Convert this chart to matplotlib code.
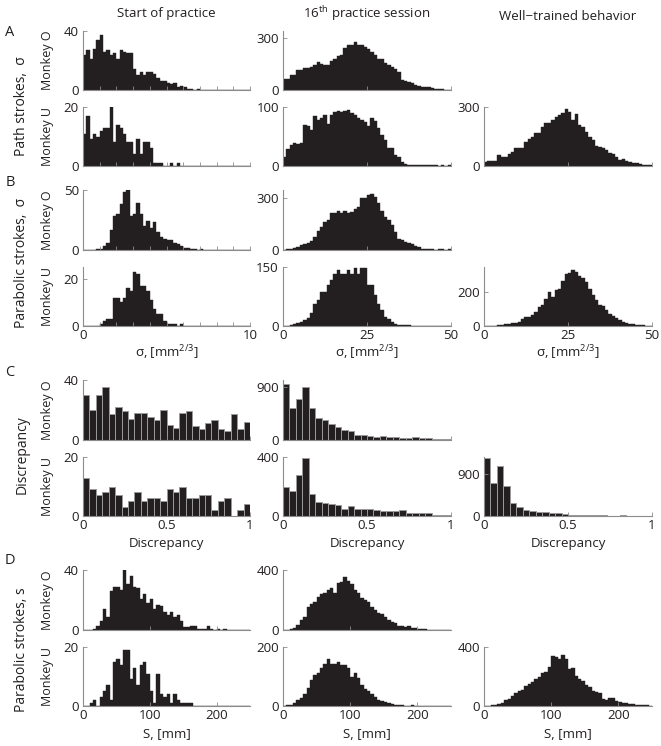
import numpy as np
import matplotlib
matplotlib.use("Agg")
import matplotlib.pyplot as plt

plt.rcParams['font.family'] = ['Open Sans', 'DejaVu Sans']
plt.rcParams['mathtext.fontset'] = 'custom'
plt.rcParams['mathtext.rm'] = 'Open Sans'
plt.rcParams['mathtext.it'] = 'Open Sans:italic'

# ---------------- data ----------------
# bin left edges
sigma_start_bins = np.arange(0, 10, 0.2)      # start of practice, sigma
sigma_bins = np.arange(0, 50, 1.0)            # 16th session / trained, sigma
disc_bins = np.linspace(0, 1, 27)[:-1]        # discrepancy
s_bins = np.arange(0, 250, 5.0)               # S, mm

def pad(v, n):
    v = list(v)
    return v + [0] * (n - len(v))

# A: path strokes sigma
pathO_start = pad([24, 27, 21, 28, 34, 37, 26, 27, 24, 25, 21, 27, 26, 25, 25, 14, 10, 12, 10, 12,
                   12, 11, 8, 6, 6, 5, 4, 5, 2, 3, 2, 1, 1, 0, 1], 50)
pathU_start = pad([11, 17, 9, 11, 10, 12, 13, 13, 20, 8, 14, 13, 11, 8, 8, 4, 9, 4, 8, 8,
                   6, 1, 1, 1, 0, 0, 1, 0, 1], 50)
pathO_16 = [63, 63, 86, 86, 118, 118, 124, 124, 130, 143, 160, 149, 143, 143, 166, 176, 195, 200, 243, 262,
            262, 279, 262, 262, 249, 239, 220, 200, 176, 176, 157, 143, 134, 120, 105, 57, 52, 48, 38, 31,
            23, 19, 15, 15, 11, 4, 4, 4, 2, 2]
pathU_16 = [16, 29, 36, 39, 37, 39, 70, 68, 61, 85, 78, 81, 86, 72, 86, 91, 93, 91, 93, 95,
            90, 86, 82, 78, 74, 67, 81, 76, 64, 53, 44, 30, 30, 19, 16, 7, 3, 2, 2, 2,
            1, 2, 1, 1, 2, 1, 0, 1, 0, 1]
pathU_trained = [22, 27, 27, 27, 56, 44, 48, 61, 70, 94, 90, 90, 124, 136, 150, 170, 167, 196, 221, 218,
                 235, 249, 261, 269, 291, 273, 235, 266, 210, 198, 175, 150, 133, 102, 99, 94, 82, 65, 60, 48,
                 31, 34, 26, 20, 14, 14, 9, 7, 5, 3]

# B: parabolic strokes sigma
parO_start = pad([0, 0, 0, 0, 1, 1, 3, 6, 17, 28, 30, 38, 48, 50, 28, 30, 39, 30, 20, 24,
                  18, 23, 15, 11, 9, 8, 8, 6, 5, 3, 2, 2, 1, 1, 0, 1], 50)
parU_start = pad([0, 0, 0, 0, 0, 1, 2, 3, 3, 12, 12, 10, 12, 16, 15, 23, 22, 17, 17, 15,
                  11, 7, 5, 5, 2, 1, 1, 1, 0, 1], 50)
parO_16 = [2, 5, 8, 12, 15, 27, 35, 40, 54, 77, 110, 135, 164, 174, 213, 217, 228, 217, 228, 217,
           222, 238, 251, 300, 300, 319, 325, 306, 271, 228, 193, 174, 145, 106, 64, 58, 48, 39, 35, 23,
           15, 8, 6, 4, 3, 2, 3, 3, 2, 3]
parU_16 = [0, 1, 2, 4, 7, 11, 15, 20, 32, 57, 66, 87, 87, 103, 116, 133, 142, 133, 133, 142,
           131, 148, 133, 148, 148, 103, 103, 78, 57, 40, 24, 17, 11, 5, 3, 3, 2, 2, 1, 1,
           1, 1, 1, 0, 0, 0, 0, 0, 0, 0]
parU_trained = [0, 0, 1, 2, 6, 6, 10, 12, 16, 20, 26, 40, 51, 55, 65, 85, 115, 125, 164, 200,
                174, 214, 220, 269, 313, 319, 333, 323, 297, 289, 263, 218, 184, 154, 125, 119, 95, 71, 61, 50,
                36, 26, 16, 14, 10, 6, 4, 4, 2, 2]

# C: discrepancy
discO_start = [30, 20, 30, 35, 17, 22, 19, 14, 18, 18, 15, 13, 20, 10, 8, 18, 19, 9, 7, 11,
               13, 7, 6, 17, 7, 12]
discU_start = [13, 9, 7, 8, 10, 7, 3, 5, 8, 5, 6, 6, 5, 9, 8, 10, 6, 6, 7, 7,
               2, 5, 6, 0, 2, 4]
discO_16 = [950, 540, 695, 900, 541, 381, 342, 268, 228, 171, 154, 85, 85, 68, 57, 63, 46, 46, 40, 40,
            46, 28, 28, 11, 15, 10]
discU_16 = [198, 171, 281, 395, 148, 97, 85, 79, 74, 47, 67, 47, 47, 45, 40, 36, 36, 36, 38, 18,
            20, 18, 18, 7, 7, 5]
discU_trained = [1260, 721, 1079, 643, 286, 186, 129, 107, 86, 93, 57, 64, 50, 29, 21, 15, 15, 12, 12, 10,
                 10, 12, 10, 8, 8, 6]

# D: parabolic strokes S
sO_start = pad([0, 0, 0, 1, 3, 6, 14, 9, 26, 29, 29, 27, 40, 31, 36, 29, 28, 21, 24, 18,
                21, 14, 17, 16, 12, 10, 12, 9, 10, 6, 2, 2, 3, 3, 1, 1, 1, 3, 1, 0,
                1, 0, 1], 50)
sU_start = pad([0, 0, 1, 2, 0, 3, 5, 7, 2, 15, 16, 14, 19, 19, 9, 13, 7, 14, 15, 11,
                5, 1, 11, 4, 3, 4, 1, 4, 2, 1, 1, 1, 1], 50)
sO_16 = [0, 0, 4, 11, 33, 67, 89, 156, 171, 184, 222, 238, 249, 267, 278, 244, 311, 322, 356, 327,
         304, 267, 244, 216, 200, 184, 156, 133, 116, 104, 89, 67, 56, 44, 29, 27, 20, 24, 16, 11,
         9, 7, 4, 2, 2, 1, 1, 1, 1, 1]
sU_16 = [0, 2, 5, 11, 19, 28, 39, 61, 89, 105, 111, 128, 144, 158, 144, 141, 148, 139, 139, 128,
         100, 111, 94, 72, 59, 50, 39, 30, 22, 17, 13, 9, 6, 4, 2, 2, 1, 1, 2, 1,
         1, 1, 1, 0, 0, 0, 0, 0, 0, 0]
sU_trained = [0, 0, 4, 7, 11, 18, 38, 49, 71, 89, 100, 111, 133, 151, 160, 182, 200, 222, 229, 262,
              338, 333, 322, 344, 316, 249, 256, 204, 182, 167, 144, 129, 100, 93, 89, 49, 44, 56, 56, 33,
              27, 20, 18, 13, 11, 9, 7, 4, 4, 2]

# ---------------- style / layout ----------------
W, H = 661, 746
fig = plt.figure(figsize=(W / 100, H / 100), dpi=100)
TXT = '#231f20'
BAR = '#231f20'
SPINE = '#8c8c8c'
FS = 9.5

cols = [(83, 250), (283, 451), (484, 652)]
rows = [(31, 90), (107, 166), (190, 250), (267, 326), (380, 440), (457, 516), (570, 630), (647, 706)]

sig_lab = 'σ, [mm$^{2/3}$]'
panels = [
    # row, col, x, y, width, xlim, xticks, xticklabels, ylim, yticks
    (0, 0, sigma_start_bins, pathO_start, 0.2, 10, list(range(11)), None, 40, [0, 40]),
    (1, 0, sigma_start_bins, pathU_start, 0.2, 10, list(range(11)), None, 20, [0, 20]),
    (0, 1, sigma_bins, pathO_16, 1, 50, [0, 25, 50], None, 340, [0, 300]),
    (1, 1, sigma_bins, pathU_16, 1, 50, [0, 25, 50], None, 100, [0, 100]),
    (1, 2, sigma_bins, pathU_trained, 1, 50, [0, 25, 50], None, 300, [0, 300]),
    (2, 0, sigma_start_bins, parO_start, 0.2, 10, list(range(11)), None, 50, [0, 50]),
    (3, 0, sigma_start_bins, parU_start, 0.2, 10, list(range(11)),
     ['0'] + [''] * 9 + ['10'], 25, [0, 20]),
    (2, 1, sigma_bins, parO_16, 1, 50, [0, 25, 50], None, 348, [0, 300]),
    (3, 1, sigma_bins, parU_16, 1, 50, [0, 25, 50], ['0', '25', '50'], 150, [0, 150]),
    (3, 2, sigma_bins, parU_trained, 1, 50, [0, 25, 50], ['0', '25', '50'], 352, [0, 200]),
    (4, 0, disc_bins, discO_start, 1 / 26, 1, [0, 0.5, 1], None, 40, [0, 40]),
    (5, 0, disc_bins, discU_start, 1 / 26, 1, [0, 0.5, 1], ['0', '0.5', '1'], 20, [0, 20]),
    (4, 1, disc_bins, discO_16, 1 / 26, 1, [0, 0.5, 1], None, 1025, [0, 900]),
    (5, 1, disc_bins, discU_16, 1 / 26, 1, [0, 0.5, 1], ['0', '0.5', '1'], 400, [0, 400]),
    (5, 2, disc_bins, discU_trained, 1 / 26, 1, [0, 0.5, 1], ['0', '0.5', '1'], 1271, [0, 900]),
    (6, 0, s_bins, sO_start, 5, 250, [0, 100, 200], None, 40, [0, 40]),
    (7, 0, s_bins, sU_start, 5, 250, [0, 100, 200], ['0', '100', '200'], 20, [0, 20]),
    (6, 1, s_bins, sO_16, 5, 250, [0, 100, 200], None, 400, [0, 400]),
    (7, 1, s_bins, sU_16, 5, 250, [0, 100, 200], ['0', '100', '200'], 200, [0, 200]),
    (7, 2, s_bins, sU_trained, 5, 250, [0, 100, 200], ['0', '100', '200'], 400, [0, 400]),
]

for (r, c, x, y, bw, xmax, xt, xtl, ymax, yt) in panels:
    x0, x1 = cols[c]
    y0, y1 = rows[r]
    ax = fig.add_axes([x0 / W, 1 - y1 / H, (x1 - x0) / W, (y1 - y0) / H])
    dense = len(x) > 30
    if dense:
        ax.bar(x, y, width=bw, align='edge', color=BAR, edgecolor=BAR, linewidth=0.3)
    else:
        ax.bar(x, y, width=bw, align='edge', color=BAR, edgecolor='#9a9a9a', linewidth=0.7)
    ax.set_xlim(0, xmax)
    ax.set_ylim(0, ymax)
    for s in ['top', 'right']:
        ax.spines[s].set_visible(False)
    for s in ['left', 'bottom']:
        ax.spines[s].set_color(SPINE)
        ax.spines[s].set_linewidth(0.8)
    ax.set_xticks(xt)
    ax.set_yticks(yt)
    ax.set_yticklabels([str(v) for v in yt])
    if xtl is None:
        ax.set_xticklabels([''] * len(xt))
    else:
        ax.set_xticklabels(xtl)
    ax.tick_params(direction='in', length=3, width=0.6, color=SPINE,
                   labelcolor=TXT, labelsize=FS, pad=3)
    ax.tick_params(axis='x', pad=2.5)
    ax.set_axisbelow(False)

# x labels under the bottom rows
for c in range(3):
    xc = (cols[c][0] + cols[c][1]) / 2
    fig.text(xc / W, 1 - 353 / H, sig_lab, ha='center', va='center', fontsize=FS, color=TXT)
    fig.text(xc / W, 1 - 544 / H, 'Discrepancy', ha='center', va='center', fontsize=FS, color=TXT)
    fig.text(xc / W, 1 - 734 / H, 'S, [mm]', ha='center', va='center', fontsize=FS, color=TXT)

# column titles
fig.text(166 / W, 1 - 14 / H, 'Start of practice', ha='center', va='center', fontsize=FS, color=TXT)
fig.text(367 / W, 1 - 14 / H, '16$^{\\mathrm{th}}$ practice session', ha='center', va='center',
         fontsize=FS, color=TXT)
fig.text(568 / W, 1 - 16 / H, 'Well\u2212trained behavior', ha='center', va='center',
         fontsize=FS, color=TXT)

# panel letters
for lab, yy in [('A', 33), ('B', 183), ('C', 372), ('D', 560)]:
    fig.text(10 / W, 1 - yy / H, lab, ha='center', va='center', fontsize=10.5, color=TXT)

# section labels
for lab, yy in [('Path strokes,  σ', 106), ('Parabolic strokes,  σ', 263),
                ('Discrepancy', 455), ('Parabolic strokes, s', 650)]:
    fig.text(22 / W, 1 - yy / H, lab, ha='center', va='center', rotation=90,
             fontsize=10, color=TXT)

# monkey labels
for r in range(8):
    yc = (rows[r][0] + rows[r][1]) / 2
    fig.text(48 / W, 1 - yc / H, 'Monkey O' if r % 2 == 0 else 'Monkey U', ha='center',
             va='center', rotation=90, fontsize=9, color=TXT)

fig.savefig('out.png', dpi=100)
